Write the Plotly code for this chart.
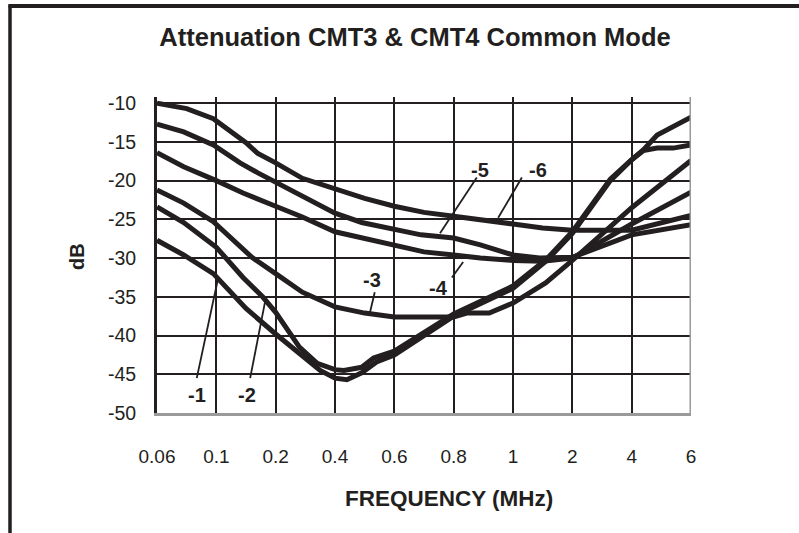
import plotly.graph_objects as go

# ---- data ----
freq_labels = ["0.06", "0.1", "0.2", "0.4", "0.6", "0.8", "1", "2", "4", "6"]
db_ticks = [-50, -45, -40, -35, -30, -25, -20, -15, -10]

# positions are category-index positions along the frequency axis
pos_1 = [0, 0.45, 0.95, 1.5, 2.0, 2.45, 2.75, 3.0, 3.2, 3.45, 3.7, 4.0, 5.0, 6.0, 6.57, 7.0, 7.64, 8.0, 8.2, 8.43, 9.0]
db_1 = [-27.7, -29.6, -32.0, -36.5, -39.8, -42.6, -44.5, -45.5, -45.7, -44.8, -43.4, -42.5, -37.5, -33.9, -30.3, -26.8, -20.0, -17.3, -16.0, -14.1, -11.8]

pos_2 = [0, 0.45, 1.0, 1.45, 1.78, 2.0, 2.4, 2.7, 3.0, 3.15, 3.45, 3.65, 4.0, 5.0, 6.0, 6.57, 7.0, 7.64, 8.0, 8.2, 8.43, 8.7, 9.0]
db_2 = [-23.4, -25.4, -28.6, -32.5, -35.0, -37.0, -41.5, -43.6, -44.4, -44.5, -44.1, -42.9, -42.0, -37.2, -33.6, -30.1, -26.6, -19.8, -17.3, -16.1, -15.8, -15.8, -15.4]

pos_3 = [0, 0.45, 0.95, 1.3, 1.6, 2.0, 2.45, 3.0, 3.5, 4.0, 5.0, 5.22, 5.6, 6.0, 6.55, 7.0, 8.0, 9.0]
db_3 = [-21.2, -22.9, -25.3, -27.7, -29.9, -32.0, -34.4, -36.3, -37.1, -37.6, -37.6, -37.1, -37.1, -35.8, -33.2, -30.3, -23.5, -17.4]

pos_4 = [0, 0.45, 1.0, 1.45, 2.0, 2.45, 3.0, 3.45, 4.0, 4.5, 5.0, 5.45, 6.0, 6.5, 7.0, 8.0, 9.0]
db_4 = [-16.4, -18.2, -20.0, -21.6, -23.3, -24.7, -26.6, -27.4, -28.4, -29.2, -29.6, -30.0, -30.3, -30.4, -30.0, -25.6, -21.5]

pos_5 = [0, 0.45, 0.95, 1.4, 1.7, 2.0, 2.45, 3.0, 3.45, 4.0, 4.45, 5.0, 5.45, 6.0, 6.45, 7.0, 8.0, 9.0]
db_5 = [-12.7, -13.7, -15.4, -17.7, -19.0, -20.2, -22.0, -24.2, -25.4, -26.2, -27.0, -27.4, -28.3, -29.6, -30.0, -29.9, -27.0, -25.7]

pos_6 = [0, 0.5, 0.95, 1.3, 1.5, 1.7, 2.0, 2.45, 3.0, 3.5, 4.0, 4.5, 5.0, 5.7, 6.0, 6.5, 7.0, 8.0, 9.0]
db_6 = [-10.0, -10.7, -12.0, -14.0, -15.1, -16.5, -17.7, -19.7, -21.0, -22.3, -23.3, -24.1, -24.6, -25.2, -25.6, -26.1, -26.4, -26.4, -24.5]

curve_names = ["-1", "-2", "-3", "-4", "-5", "-6"]
curve_pos = [pos_1, pos_2, pos_3, pos_4, pos_5, pos_6]
curve_db = [db_1, db_2, db_3, db_4, db_5, db_6]

# label text positions and leader-line endpoints (x index, dB)
label_xy = [(0.67, -47.7), (1.52, -47.7), (3.62, -32.8), (4.74, -33.9), (5.44, -18.6), (6.42, -18.6)]
leader_from = [(0.67, -45.5), (1.57, -45.5), (3.67, -34.4), (4.97, -32.5), (5.39, -19.6), (6.15, -19.6)]
leader_to = [(1.03, -32.6), (1.83, -35.3), (3.59, -37.0), (5.16, -30.5), (4.77, -26.8), (5.75, -24.8)]

INK = "#231f20"
FONT = "Liberation Sans, Arial, sans-serif"

# plot area target in window px: x 157..691, y 97..413 (body margin removed by post_script)
W, H = 799, 533
L, R, T, B = 157, 799 - 691, 97, 533 - 413
PW, PH = W - L - R, H - T - B


def px_x(px):
    return (px - L) / PW


def px_y(py):
    return (H - B - py) / PH


fig = go.Figure()
for name, xs, ys in zip(curve_names, curve_pos, curve_db):
    fig.add_trace(go.Scatter(x=xs, y=ys, mode="lines", name=name,
                             line=dict(color=INK, width=5), cliponaxis=True,
                             showlegend=False, hoverinfo="skip"))

shapes = []
for (x0, y0), (x1, y1) in zip(leader_from, leader_to):
    shapes.append(dict(type="line", xref="x", yref="y", x0=x0, y0=y0, x1=x1, y1=y1,
                       line=dict(color=INK, width=1.8), layer="above"))
# grey right border of plot area
shapes.append(dict(type="line", xref="x", yref="paper", x0=9, x1=9, y0=0, y1=1,
                   line=dict(color="#9a9a9a", width=3), layer="above"))
# outer frame (cut off at right and bottom of the picture)
shapes.append(dict(type="rect", xref="paper", yref="paper",
                   x0=px_x(8.5), x1=px_x(798), y0=px_y(4.3), y1=px_y(7.7),
                   line=dict(width=0), fillcolor=INK, layer="above"))
shapes.append(dict(type="line", xref="paper", yref="paper",
                   x0=px_x(10), x1=px_x(10), y0=px_y(533), y1=px_y(4.5),
                   line=dict(color=INK, width=3.5), layer="above"))

annotations = []
# top edge of the outer frame, also drawn as a filled bar
annotations.append(dict(x=px_x(8.5), y=px_y(6), xref="paper", yref="paper",
                        text=" ", showarrow=False, width=790, height=3.5,
                        bgcolor=INK, borderpad=0, borderwidth=0,
                        font=dict(size=1, color=INK),
                        xanchor="left", yanchor="middle"))
for name, (lx, ly) in zip(curve_names, label_xy):
    annotations.append(dict(x=lx, y=ly, xref="x", yref="y", text=f"<b>{name}</b>",
                            showarrow=False, font=dict(family=FONT, size=20, color=INK),
                            xanchor="center", yanchor="middle"))
annotations.append(dict(x=px_x(449), y=px_y(498), xref="paper", yref="paper",
                        text="<b>FREQUENCY (MHz)</b>", showarrow=False,
                        font=dict(family=FONT, size=22.5, color=INK),
                        xanchor="center", yanchor="middle"))
annotations.append(dict(x=px_x(77), y=px_y(257), xref="paper", yref="paper",
                        text="<b>dB</b>", textangle=-90, showarrow=False,
                        font=dict(family=FONT, size=20, color=INK),
                        xanchor="center", yanchor="middle"))

fig.update_layout(
    width=W, height=H,
    margin=dict(l=L, r=R, t=T, b=B),
    paper_bgcolor="white", plot_bgcolor="white",
    title=dict(text="<b>Attenuation CMT3 & CMT4 Common Mode</b>",
               x=415 / W, xref="container", xanchor="center",
               y=1 - 37 / H, yref="container", yanchor="middle",
               font=dict(family=FONT, size=25.5, color=INK)),
    xaxis=dict(range=[0, 9], tickvals=list(range(len(freq_labels))), ticktext=freq_labels,
               showgrid=True, gridcolor=INK, gridwidth=2, zeroline=False,
               showline=True, linecolor="#9a9a9a", linewidth=3,
               ticks="", ticklabelstandoff=24,
               tickfont=dict(family=FONT, size=19, color=INK), fixedrange=True),
    yaxis=dict(range=[-50, -9.2], tickvals=db_ticks, ticktext=[str(v) for v in db_ticks],
               showgrid=True, gridcolor=INK, gridwidth=2, zeroline=False,
               showline=True, linecolor=INK, linewidth=3,
               ticks="", ticklabelstandoff=14,
               tickfont=dict(family=FONT, size=19.5, color=INK), fixedrange=True),
    shapes=shapes, annotations=annotations,
)

fig.write_html("out.html", config={"displayModeBar": False, "staticPlot": True},
               post_script="document.body.style.margin='0';document.body.style.overflow='hidden';")
